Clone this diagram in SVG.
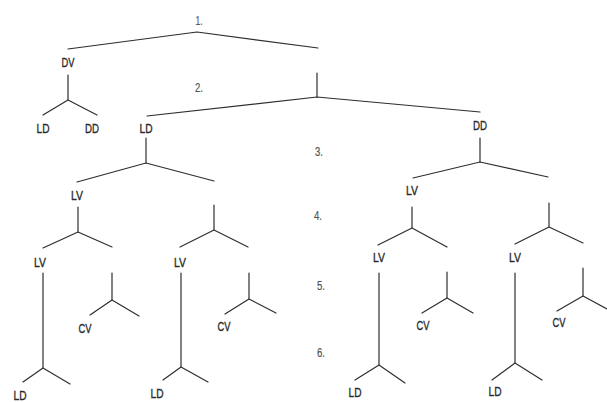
<svg xmlns="http://www.w3.org/2000/svg" width="607" height="402" viewBox="0 0 607 402">
<style>
.c line,.c polyline{stroke:#2e2e2e;stroke-width:1.2;fill:none;stroke-linecap:round;stroke-linejoin:round}
text{font-family:"Liberation Sans",Arial,sans-serif;font-size:13.5px;fill:#2a2a2a;stroke:#2a2a2a;stroke-width:0.35;text-anchor:middle}
.n{font-size:12.5px;fill:#555;stroke:#555;stroke-width:0.2}
</style>
<rect width="607" height="402" fill="#ffffff"/>
<g id="levels">
<text class="n" x="199" y="25" textLength="7" lengthAdjust="spacingAndGlyphs">1.</text>
<text class="n" x="199" y="92" textLength="8" lengthAdjust="spacingAndGlyphs">2.</text>
<text class="n" x="319" y="156" textLength="8" lengthAdjust="spacingAndGlyphs">3.</text>
<text class="n" x="318" y="220" textLength="8" lengthAdjust="spacingAndGlyphs">4.</text>
<text class="n" x="321" y="290" textLength="8" lengthAdjust="spacingAndGlyphs">5.</text>
<text class="n" x="321" y="357" textLength="8" lengthAdjust="spacingAndGlyphs">6.</text>
</g>
<g id="n-dv"><text x="68" y="67" textLength="13" lengthAdjust="spacingAndGlyphs">DV</text></g>
<g id="n-ld-a"><text x="43" y="133" textLength="13" lengthAdjust="spacingAndGlyphs">LD</text></g>
<g id="n-dd-a"><text x="92" y="133" textLength="14" lengthAdjust="spacingAndGlyphs">DD</text></g>
<g id="n-ld-b"><text x="146" y="133" textLength="13" lengthAdjust="spacingAndGlyphs">LD</text></g>
<g id="n-dd-b"><text x="480" y="130" textLength="14" lengthAdjust="spacingAndGlyphs">DD</text></g>
<g id="n-lv-1"><text x="77" y="200" textLength="12" lengthAdjust="spacingAndGlyphs">LV</text></g>
<g id="n-lv-2"><text x="412" y="195" textLength="12" lengthAdjust="spacingAndGlyphs">LV</text></g>
<g id="n-lv-3"><text x="40" y="267" textLength="12" lengthAdjust="spacingAndGlyphs">LV</text></g>
<g id="n-lv-4"><text x="180" y="267" textLength="12" lengthAdjust="spacingAndGlyphs">LV</text></g>
<g id="n-lv-5"><text x="379" y="262" textLength="12" lengthAdjust="spacingAndGlyphs">LV</text></g>
<g id="n-lv-6"><text x="515" y="262" textLength="12" lengthAdjust="spacingAndGlyphs">LV</text></g>
<g id="n-cv-1"><text x="85" y="333" textLength="13" lengthAdjust="spacingAndGlyphs">CV</text></g>
<g id="n-cv-2"><text x="224" y="331" textLength="13" lengthAdjust="spacingAndGlyphs">CV</text></g>
<g id="n-cv-3"><text x="423" y="330" textLength="13" lengthAdjust="spacingAndGlyphs">CV</text></g>
<g id="n-cv-4"><text x="559" y="327" textLength="13" lengthAdjust="spacingAndGlyphs">CV</text></g>
<g id="n-ld-1"><text x="20" y="400" textLength="13" lengthAdjust="spacingAndGlyphs">LD</text></g>
<g id="n-ld-2"><text x="157" y="398" textLength="13" lengthAdjust="spacingAndGlyphs">LD</text></g>
<g id="n-ld-3"><text x="355" y="397" textLength="13" lengthAdjust="spacingAndGlyphs">LD</text></g>
<g id="n-ld-4"><text x="495" y="396" textLength="13" lengthAdjust="spacingAndGlyphs">LD</text></g>
<g id="connectors" class="c">
<polyline points="68,49 197,32 318,48"/>
<line x1="68" y1="75" x2="68" y2="100"/><polyline points="43,115 68,100 97,115"/>
<line x1="317" y1="73" x2="317" y2="97"/><polyline points="147,116 317,97 480,112"/>
<line x1="146" y1="138" x2="146" y2="163"/><polyline points="77,182 146,163 214,181"/>
<line x1="480" y1="138" x2="480" y2="162"/><polyline points="413,178 480,162 548,177"/>
<line x1="78" y1="207" x2="78" y2="232"/><polyline points="43,248 78,232 112,247"/>
<line x1="214" y1="205" x2="214" y2="230"/><polyline points="180,247 214,230 248,247"/>
<line x1="412" y1="207" x2="412" y2="228"/><polyline points="378,245 412,228 447,247"/>
<line x1="549" y1="203" x2="549" y2="227"/><polyline points="515,244 549,227 583,243"/>
<line x1="43" y1="273" x2="43" y2="368"/><polyline points="23,382 43,368 70,384"/>
<line x1="181" y1="273" x2="181" y2="367"/><polyline points="163,380 181,367 208,382"/>
<line x1="379" y1="273" x2="379" y2="365"/><polyline points="355,380 379,365 405,383"/>
<line x1="515" y1="273" x2="515" y2="363"/><polyline points="492,380 515,363 542,380"/>
<line x1="112" y1="273" x2="112" y2="300"/><polyline points="90,315 112,300 139,316"/>
<line x1="249" y1="273" x2="249" y2="299"/><polyline points="225,314 249,299 276,313"/>
<line x1="447" y1="272" x2="447" y2="298"/><polyline points="422,313 447,298 473,313"/>
<line x1="583" y1="268" x2="583" y2="296"/><polyline points="557,311 583,296 607,309"/>
</g>
</svg>
